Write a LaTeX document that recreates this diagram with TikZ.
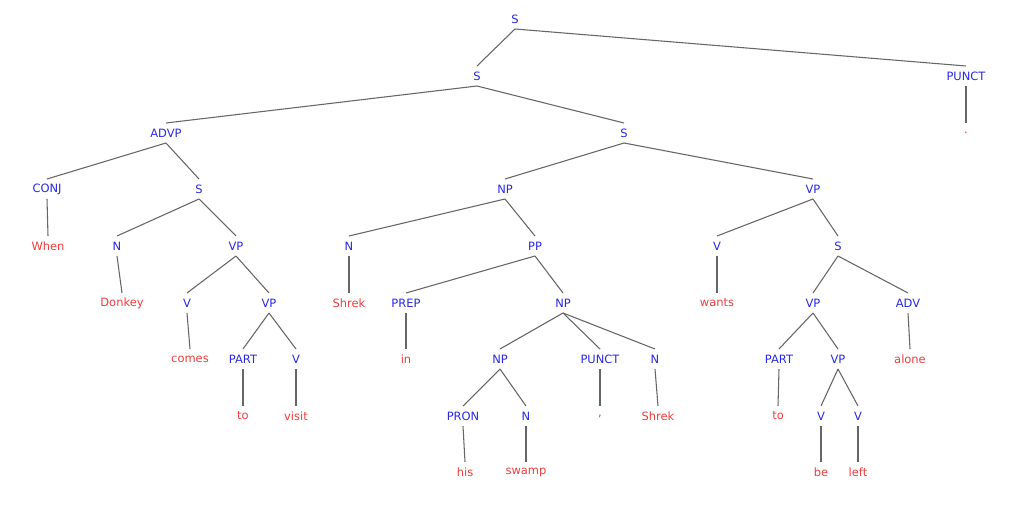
\documentclass[tikz,border=0pt]{standalone}
\usepackage{fontspec}
\setmainfont{DejaVu Sans}
\definecolor{cat}{RGB}{40,40,235}
\definecolor{wrd}{RGB}{245,60,60}
\newcommand{\ed}[2]{\draw[edge] ([yshift=-7.5pt]#1.center) -- ([yshift=7.5pt]#2.center);}
\begin{document}
\begin{tikzpicture}[x=0.75pt,y=-0.75pt,
  c/.style={text=cat,font=\fontsize{8.6}{9}\selectfont,inner sep=0pt},
  w/.style={text=wrd,font=\fontsize{8.6}{9}\selectfont,inner sep=0pt},
  edge/.style={draw=black!60,line width=0.8pt}]
\fill[white] (0,0) rectangle (1024,516);
\node[c] (s0) at (515,19) {S};
\node[c] (s1) at (477,76) {S};
\node[c] (p0) at (966,76) {PUNCT};
\node[w] (dot) at (966,133) {.};
\node[c] (advp) at (166,133) {ADVP};
\node[c] (s2) at (624,133) {S};
\node[c] (conj) at (47,189) {CONJ};
\node[c] (s3) at (199,189) {S};
\node[c] (np1) at (505,189) {NP};
\node[c] (vp1) at (813,189) {VP};
\node[w] (when) at (48,246) {When};
\node[c] (n1) at (117,246) {N};
\node[c] (vp2) at (236,246) {VP};
\node[c] (n2) at (349,246) {N};
\node[c] (pp) at (535,246) {PP};
\node[c] (v1) at (717,246) {V};
\node[c] (s4) at (838,246) {S};
\node[w] (donkey) at (122,303) {Donkey};
\node[c] (v2) at (187,303) {V};
\node[c] (vp3) at (269,303) {VP};
\node[w] (shrek1) at (349,303) {Shrek};
\node[c] (prep) at (406,303) {PREP};
\node[c] (np2) at (563,303) {NP};
\node[w] (wants) at (717,303) {wants};
\node[c] (vp4) at (813,303) {VP};
\node[c] (adv) at (908,303) {ADV};
\node[w] (comes) at (190,359) {comes};
\node[c] (part1) at (243,359) {PART};
\node[c] (v3) at (296,359) {V};
\node[w] (in) at (406,359) {in};
\node[c] (np3) at (500,359) {NP};
\node[c] (p1) at (600,359) {PUNCT};
\node[c] (n3) at (655,359) {N};
\node[c] (part2) at (779,359) {PART};
\node[c] (vp5) at (838,359) {VP};
\node[w] (alone) at (910,359) {alone};
\node[w] (to1) at (243,416) {to};
\node[w] (visit) at (296,416) {visit};
\node[c] (pron) at (463,416) {PRON};
\node[c] (n4) at (526,416) {N};
\node[w] (comma) at (600,416) {,};
\node[w] (shrek2) at (658,416) {Shrek};
\node[w] (to2) at (778,416) {to};
\node[c] (v4) at (821,416) {V};
\node[c] (v5) at (858,416) {V};
\node[w] (his) at (465,472) {his};
\node[w] (swamp) at (526,472) {swamp};
\node[w] (be) at (821,472) {be};
\node[w] (left) at (858,472) {left};
\ed{s0}{s1}\ed{s0}{p0}\ed{p0}{dot}
\ed{s1}{advp}\ed{s1}{s2}
\ed{advp}{conj}\ed{advp}{s3}
\ed{s2}{np1}\ed{s2}{vp1}
\ed{conj}{when}\ed{s3}{n1}\ed{s3}{vp2}
\ed{np1}{n2}\ed{np1}{pp}\ed{vp1}{v1}\ed{vp1}{s4}
\ed{n1}{donkey}\ed{vp2}{v2}\ed{vp2}{vp3}
\ed{n2}{shrek1}\ed{pp}{prep}\ed{pp}{np2}
\ed{v1}{wants}\ed{s4}{vp4}\ed{s4}{adv}
\ed{v2}{comes}\ed{vp3}{part1}\ed{vp3}{v3}
\ed{prep}{in}\ed{np2}{np3}\ed{np2}{p1}\ed{np2}{n3}
\ed{vp4}{part2}\ed{vp4}{vp5}\ed{adv}{alone}
\ed{part1}{to1}\ed{v3}{visit}
\ed{np3}{pron}\ed{np3}{n4}\ed{p1}{comma}\ed{n3}{shrek2}
\ed{part2}{to2}\ed{vp5}{v4}\ed{vp5}{v5}
\ed{pron}{his}\ed{n4}{swamp}\ed{v4}{be}\ed{v5}{left}
\end{tikzpicture}
\end{document}
